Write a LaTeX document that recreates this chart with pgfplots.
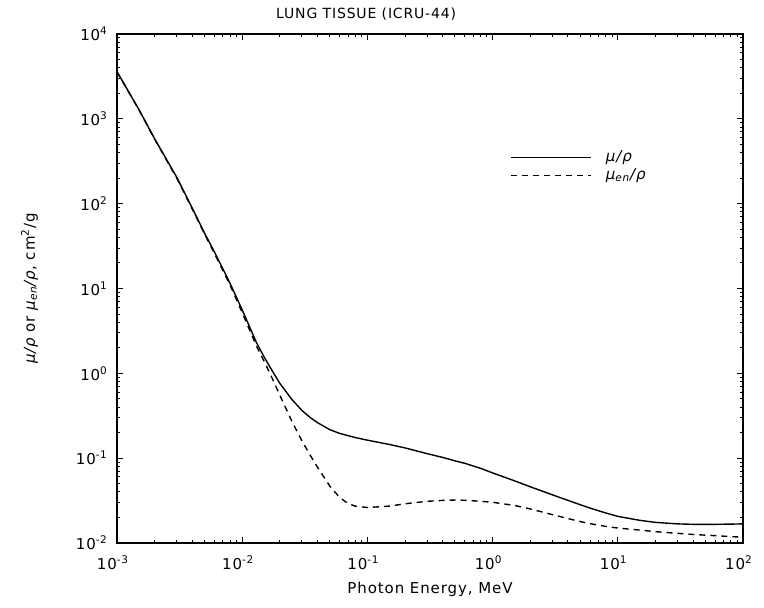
\documentclass[border=0pt]{standalone}
\usepackage{fontspec}
\setmainfont{DejaVu Sans}[LetterSpace=6]
\usepackage{pgfplots}
\pgfplotsset{compat=1.18}

% attenuation data (energy in MeV, cm^2/g)
\begin{document}
\begin{tikzpicture}
\useasboundingbox (-58.5pt,-32.5pt) rectangle (323.5pt,271.5pt);
\begin{axis}[
    scale only axis,
    width=313pt, height=254.5pt,
    xmode=log, ymode=log,
    xmin=1e-3, xmax=1e2,
    ymin=1e-2, ymax=1e4,
    axis line style={line width=0.8pt},
    tick style={black, line width=0.5pt},
    major tick length=3pt,
    minor tick length=1.5pt,
    xtick={1e-3,1e-2,1e-1,1e0,1e1,1e2},
    xticklabels={10\textsuperscript{-3},10\textsuperscript{-2},10\textsuperscript{-1},10\textsuperscript{0},10\textsuperscript{1},10\textsuperscript{2}},
    ytick={1e-2,1e-1,1e0,1e1,1e2,1e3,1e4},
    yticklabels={10\textsuperscript{-2},10\textsuperscript{-1},10\textsuperscript{0},10\textsuperscript{1},10\textsuperscript{2},10\textsuperscript{3},10\textsuperscript{4}},
    tick label style={font=\fontsize{7.5}{9}\selectfont},
    xticklabel style={yshift=-3pt, xshift=-2pt},
    yticklabel style={xshift=-1pt},
    xlabel={Photon Energy, MeV},
    ylabel={{\itshape μ/ρ} or {\itshape μ\textsubscript{en}/ρ}, cm\textsuperscript{2}/g},
    label style={font=\fontsize{7.5}{9}\selectfont},
    xlabel style={yshift=1pt},
    ylabel style={yshift=12pt},
    every axis title shift=0pt,
    title={LUNG TISSUE (ICRU-44)},
    title style={font=\fontsize{7}{8}\selectfont, at={(0.398,1)}, anchor=base, yshift=7.5pt},
    legend style={draw=none, fill=none, at={(0.628,0.78)}, anchor=north west,
        font=\fontsize{7.5}{9}\selectfont, row sep=-2pt, column sep=5pt, inner sep=0pt},
    legend cell align=left,
    legend image code/.code={\draw[#1] (0pt,0pt) -- (40pt,0pt);},
]
\addplot[black, line width=0.7pt] coordinates {
    (0.001,3600) (0.0015,1280) (0.002,580) (0.003,205) (0.004,88) (0.005,45)
    (0.006,27) (0.008,11.5) (0.01,5.6) (0.013,2.3) (0.015,1.55) (0.018,0.98)
    (0.02,0.76) (0.025,0.49) (0.03,0.365) (0.035,0.3) (0.04,0.262) (0.05,0.217)
    (0.06,0.196) (0.08,0.175) (0.1,0.163)
    (0.15,0.145) (0.2,0.132) (0.3,0.113) (0.4,0.102) (0.5,0.093) (0.6,0.087)
    (0.8,0.076) (1,0.067) (1.5,0.054) (2,0.046) (3,0.037) (4,0.0318) (5,0.0283)
    (6,0.0258) (8,0.0226) (10,0.0206) (15,0.0185) (20,0.0175) (30,0.0168)
    (40,0.0166) (60,0.0166) (80,0.0167) (100,0.0168)
};
\addlegendentry{{\itshape μ/ρ}}
\addplot[black, line width=0.7pt, dash pattern=on 3pt off 2.5pt] coordinates {
    (0.001,3580) (0.0015,1270) (0.002,575) (0.003,200) (0.004,86) (0.005,44)
    (0.006,26) (0.008,11) (0.01,5.2) (0.013,2.1) (0.0157,1.2) (0.018,0.78)
    (0.02,0.55) (0.025,0.27) (0.03,0.16) (0.035,0.108) (0.04,0.078) (0.05,0.047)
    (0.06,0.0345) (0.07,0.0292) (0.08,0.0272)
    (0.1,0.0262) (0.15,0.0272) (0.2,0.029) (0.3,0.031) (0.4,0.0318) (0.5,0.0321)
    (0.6,0.0319) (0.8,0.031) (1,0.0302) (1.5,0.0277) (2,0.0252) (3,0.0216)
    (4,0.0194) (5,0.0179) (6,0.0169) (8,0.0157) (10,0.015) (15,0.0142)
    (20,0.0136) (30,0.013) (40,0.0126) (60,0.0122) (80,0.0119) (100,0.0117)
};
\addlegendentry{{\itshape μ\textsubscript{en}/ρ}}
\end{axis}
\end{tikzpicture}
\end{document}
